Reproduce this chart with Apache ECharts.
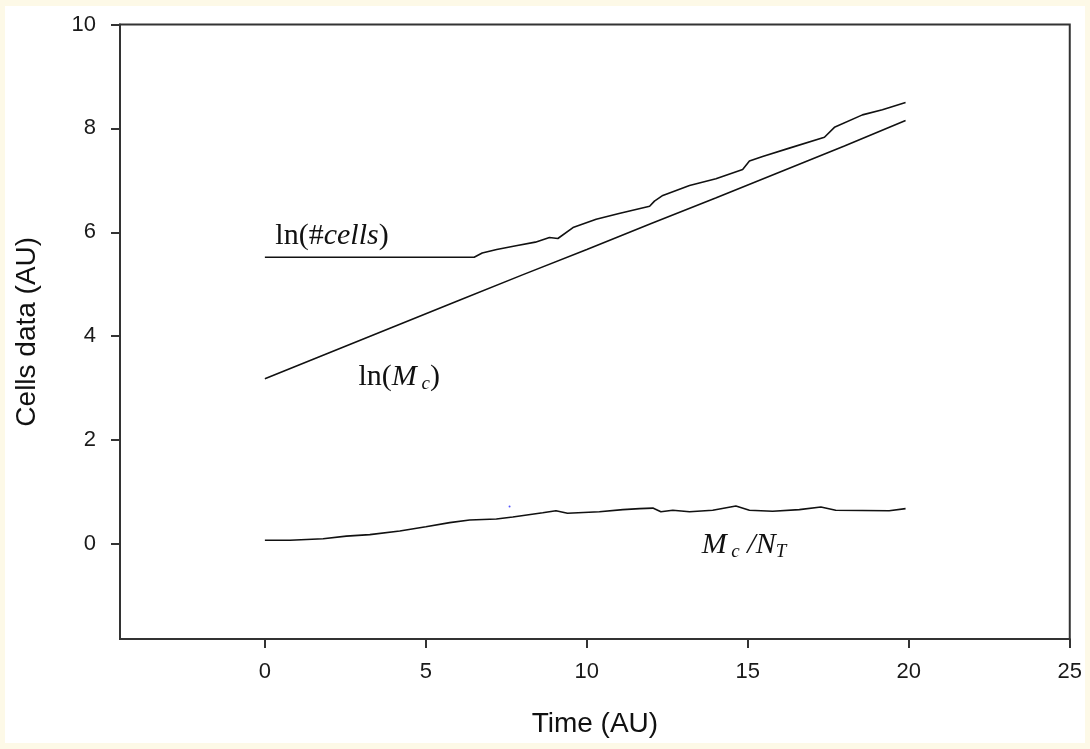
<!DOCTYPE html>
<html>
<head>
<meta charset="utf-8">
<script src="https://cdn.jsdelivr.net/npm/echarts@6/dist/echarts.min.js"></script>
<style>
  html, body {
    margin: 0;
    padding: 0;
    width: 1090px;
    height: 749px;
    background: #fdf9e7;
    overflow: hidden;
  }
  #chart {
    position: absolute;
    left: 5px;
    top: 6px;
    width: 1080px;
    height: 737px;
    background: #ffffff;
  }
</style>
</head>
<body>
<div id="chart"></div>
<script>
// tick values
const xTicks = [0, 5, 10, 15, 20, 25];
const yTicks = [0, 2, 4, 6, 8, 10];

// ln(#cells)
const cellsTime = [0, 6.5, 6.75, 7.2, 7.8, 8.4, 8.84, 9.1, 9.57, 10.29, 11.0, 11.95, 12.1, 12.36, 13.19, 14.01, 14.84, 15.05, 15.46, 16.29, 17.38, 17.69, 18.56, 19.18, 19.9];
const cellsValue = [5.52, 5.52, 5.6, 5.67, 5.74, 5.81, 5.9, 5.88, 6.09, 6.25, 6.36, 6.5, 6.6, 6.71, 6.9, 7.03, 7.21, 7.37, 7.46, 7.62, 7.83, 8.02, 8.26, 8.36, 8.5];

// ln(M_c)
const mcTime = [0, 2, 4, 6, 8, 10, 12, 14, 16, 18, 19.9];
const mcValue = [3.18, 3.68, 4.18, 4.68, 5.18, 5.67, 6.17, 6.66, 7.16, 7.66, 8.15];

// M_c / N_T
const ratioTime = [0, 0.78, 1.81, 2.53, 3.26, 4.19, 5.0, 5.74, 6.36, 7.19, 7.7, 8.63, 9.04, 9.4, 10.39, 11.12, 11.64, 12.05, 12.3, 12.67, 13.19, 13.91, 14.63, 15.05, 15.77, 16.6, 17.27, 17.73, 19.39, 19.9];
const ratioValue = [0.07, 0.07, 0.1, 0.15, 0.18, 0.25, 0.33, 0.41, 0.46, 0.48, 0.52, 0.6, 0.64, 0.59, 0.62, 0.66, 0.68, 0.69, 0.62, 0.65, 0.62, 0.65, 0.73, 0.65, 0.63, 0.66, 0.71, 0.65, 0.64, 0.68];

// stray dot
const dotPoint = [7.6, 0.72];

const zip = (xs, ys) => xs.map((x, i) => [x, ys[i]]);

const chart = echarts.init(document.getElementById("chart"));

const serif = "'Liberation Serif', 'Times New Roman', serif";
const sans = "'Liberation Sans', Arial, sans-serif";

const mathRich = {
  a: { fontFamily: serif, fontSize: 30, color: "#111", lineHeight: 32 },
  i: { fontFamily: serif, fontSize: 30, fontStyle: "italic", color: "#111", lineHeight: 32 },
  s: { fontFamily: serif, fontSize: 19, fontStyle: "italic", color: "#111", lineHeight: 19, verticalAlign: "bottom" }
};

const labelPoint = (coord, text) => ({
  coord: coord,
  symbol: "circle",
  symbolSize: 1,
  itemStyle: { color: "rgba(0,0,0,0)" },
  label: {
    show: true,
    position: "right",
    distance: 0,
    formatter: text,
    rich: mathRich
  }
});

const lineStyle = { color: "#111", width: 1.6 };

const option = {
  animation: false,
  backgroundColor: "#ffffff",
  grid: {
    left: 115,
    top: 18.5,
    right: 14.5,
    bottom: 102,
    show: true,
    borderColor: "#333",
    borderWidth: 2
  },
  xAxis: {
    type: "value",
    min: -4.5,
    max: 25,
    name: "Time (AU)",
    nameLocation: "middle",
    nameGap: 71,
    nameTextStyle: { fontFamily: sans, fontSize: 28, color: "#111" },
    axisLine: { show: true, onZero: false, lineStyle: { color: "#333", width: 2 } },
    axisTick: { show: true, length: 9, customValues: xTicks, lineStyle: { color: "#333", width: 2 } },
    axisLabel: { customValues: xTicks, margin: 22, fontFamily: sans, fontSize: 22, color: "#1a1a1a" },
    splitLine: { show: false }
  },
  yAxis: {
    type: "value",
    min: -1.83,
    max: 10,
    name: "Cells data (AU)",
    nameLocation: "middle",
    nameGap: 79,
    nameTextStyle: { fontFamily: sans, fontSize: 28, color: "#111" },
    axisLine: { show: true, onZero: false, lineStyle: { color: "#333", width: 2 } },
    axisTick: { show: true, length: 9, customValues: yTicks, lineStyle: { color: "#333", width: 2 } },
    axisLabel: { customValues: yTicks, margin: 24, fontFamily: sans, fontSize: 22, color: "#1a1a1a" },
    splitLine: { show: false }
  },
  series: [
    {
      name: "ln(#cells)",
      type: "line",
      data: zip(cellsTime, cellsValue),
      showSymbol: false,
      lineStyle: lineStyle,
      markPoint: { data: [labelPoint([0.31, 5.92], "{a|ln(#}{i|cells}{a|)}")] }
    },
    {
      name: "ln(Mc)",
      type: "line",
      data: zip(mcTime, mcValue),
      showSymbol: false,
      lineStyle: lineStyle,
      markPoint: { data: [labelPoint([2.89, 3.21], "{a|ln(}{i|M}{s| c}{a|)}")] }
    },
    {
      name: "Mc/NT",
      type: "line",
      data: zip(ratioTime, ratioValue),
      showSymbol: false,
      lineStyle: lineStyle,
      markPoint: { data: [labelPoint([13.55, -0.03], "{i|M}{s| c}{i| /N}{s|T}")] }
    },
    {
      type: "scatter",
      data: [dotPoint],
      symbolSize: 2,
      itemStyle: { color: "#2a2aff" },
      silent: true
    }
  ]
};

chart.setOption(option);
</script>
</body>
</html>
